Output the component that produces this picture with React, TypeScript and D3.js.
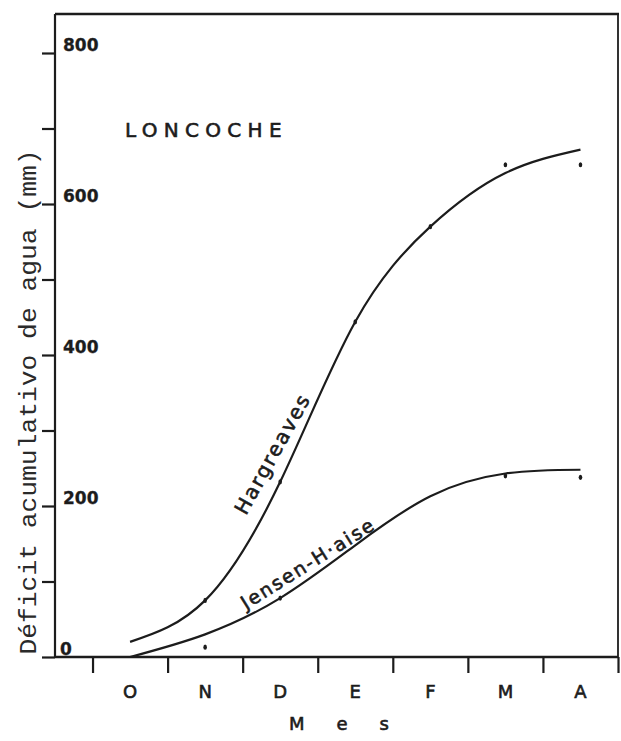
import React, { useRef, useEffect } from "react";
import * as d3 from "d3";

// meses (octubre a abril)
const months = ["O", "N", "D", "E", "F", "M", "A"];

// curvas trazadas a mano (mm)
const hargreavesCurve = [20, 75, 232, 444, 570, 641, 672];
const jensenCurve = [0, 30, 78, 148, 213, 243, 248];

// puntos observados
const hargreavesPoints = [
  { i: 1, v: 75 },
  { i: 2, v: 232 },
  { i: 3, v: 444 },
  { i: 4, v: 570 },
  { i: 5, v: 652 },
  { i: 6, v: 652 },
];
const jensenPoints = [
  { i: 1, v: 13 },
  { i: 2, v: 78 },
  { i: 5, v: 240 },
  { i: 6, v: 238 },
];

const yTicks = [0, 100, 200, 300, 400, 500, 600, 700, 800];
const yLabels = [0, 200, 400, 600, 800];

const App = () => {
  const ref = useRef<HTMLDivElement>(null);

  useEffect(() => {
    const width = 621;
    const height = 741;
    const left = 55;
    const right = 618;
    const top = 14;
    const bottom = 657;
    const ink = "#1c1c1c";
    const pen = "'DejaVu Sans', sans-serif";

    const x = d3.scaleLinear().domain([-1, 6.5]).range([left, right]);
    const y = d3.scaleLinear().domain([0, 800]).range([bottom, 53]);

    const svg = d3.create("svg")
      .attr("width", width)
      .attr("height", height)
      .attr("viewBox", [0, 0, width, height])
      .attr("style", "position:absolute;left:0;top:0;background:#fff");

    svg.append("rect").attr("width", width).attr("height", height).attr("fill", "#fff");

    // marco
    svg.append("line")
      .attr("x1", left).attr("x2", right + 1).attr("y1", top).attr("y2", top)
      .attr("stroke", ink).attr("stroke-width", 2.6);
    svg.append("line")
      .attr("x1", right).attr("x2", right).attr("y1", top).attr("y2", bottom)
      .attr("stroke", ink).attr("stroke-width", 1.8);

    // eje y
    const gy = svg.append("g")
      .attr("transform", `translate(${left},0)`)
      .call(d3.axisLeft(y).tickValues(yTicks).tickSize(13).tickFormat(() => ""));
    gy.select(".domain").attr("d", `M0,${top}V${bottom}`).attr("stroke", ink).attr("stroke-width", 2.2);
    gy.selectAll(".tick line").attr("stroke", ink).attr("stroke-width", 2.2);

    svg.append("g")
      .selectAll("text")
      .data(yLabels)
      .join("text")
      .attr("x", d => (d === 0 ? 60 : 63))
      .attr("y", d => y(d) - 8)
      .attr("dy", "0.36em")
      .attr("fill", ink)
      .attr("stroke", ink)
      .attr("stroke-width", 0.3)
      .style("font", `bold 17px ${pen}`)
      .text(d => d);

    // eje x
    const gx = svg.append("g")
      .attr("transform", `translate(0,${bottom})`)
      .call(d3.axisBottom(x).tickValues(d3.range(-0.5, 7, 1)).tickSize(16).tickFormat(() => ""));
    gx.select(".domain").attr("d", `M${left},0H${right}`).attr("stroke", ink).attr("stroke-width", 2.6);
    gx.selectAll(".tick line").attr("stroke", ink).attr("stroke-width", 2.2);

    svg.append("g")
      .selectAll("text")
      .data(months)
      .join("text")
      .attr("x", (d, i) => x(i))
      .attr("y", 692)
      .attr("dy", "0.36em")
      .attr("text-anchor", "middle")
      .attr("fill", ink)
      .attr("stroke", ink)
      .attr("stroke-width", 0.6)
      .style("font", `18px ${pen}`)
      .text(d => d);

    svg.append("text")
      .attr("x", 355)
      .attr("y", 724)
      .attr("dy", "0.36em")
      .attr("text-anchor", "middle")
      .attr("fill", ink)
      .attr("stroke", ink)
      .attr("stroke-width", 0.6)
      .attr("letter-spacing", 32)
      .style("font", `18px ${pen}`)
      .text("Mes");

    svg.append("text")
      .attr("transform", "translate(28,402) rotate(-90)")
      .attr("text-anchor", "middle")
      .attr("dy", "0.36em")
      .attr("fill", "#2a2a2a")
      .attr("textLength", 505)
      .attr("lengthAdjust", "spacingAndGlyphs")
      .style("font", "23px 'Liberation Mono', 'DejaVu Sans Mono', monospace")
      .text("Déficit acumulativo de agua (mm)");

    svg.append("text")
      .attr("x", 125)
      .attr("y", 130)
      .attr("dy", "0.36em")
      .attr("fill", ink)
      .attr("stroke", ink)
      .attr("stroke-width", 0.6)
      .attr("letter-spacing", 6.3)
      .style("font", `20px ${pen}`)
      .text("LONCOCHE");

    // curvas
    const line = d3.line<number>()
      .x((d, i) => x(i))
      .y(d => y(d))
      .curve(d3.curveNatural);

    [hargreavesCurve, jensenCurve].forEach(values => {
      svg.append("path")
        .datum(values)
        .attr("fill", "none")
        .attr("stroke", ink)
        .attr("stroke-width", 2.2)
        .attr("d", line);
    });

    [...hargreavesPoints, ...jensenPoints].forEach(p => {
      svg.append("ellipse")
        .attr("cx", x(p.i))
        .attr("cy", y(p.v))
        .attr("rx", 1.8)
        .attr("ry", 2.6)
        .attr("fill", ink);
    });

    // rotulos de series
    svg.append("text")
      .attr("transform", "translate(246,516) rotate(-61)")
      .attr("fill", ink)
      .attr("stroke", ink)
      .attr("stroke-width", 0.6)
      .attr("letter-spacing", 2)
      .style("font", `20px ${pen}`)
      .text("Hargreaves");

    svg.append("text")
      .attr("transform", "translate(246,610) rotate(-32)")
      .attr("fill", ink)
      .attr("stroke", ink)
      .attr("stroke-width", 0.6)
      .attr("letter-spacing", 2)
      .style("font", `19px ${pen}`)
      .text("Jensen-H·aise");

    ref.current!.innerHTML = "";
    ref.current!.appendChild(svg.node()!);
  }, []);

  return <div ref={ref} />;
};

export default App;
